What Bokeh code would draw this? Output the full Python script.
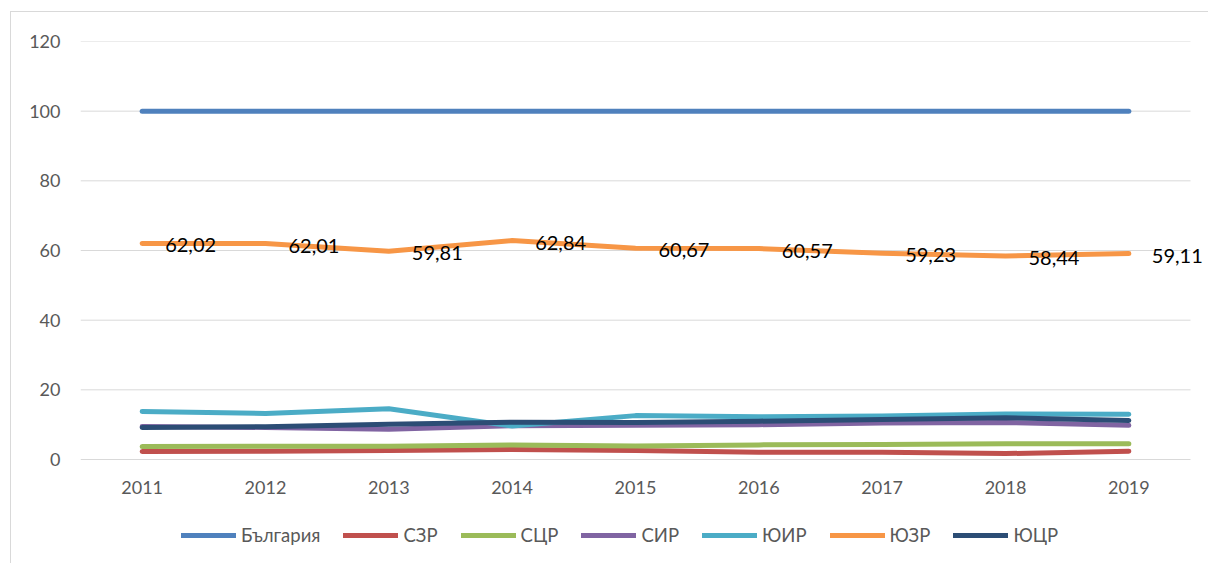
from bokeh.plotting import figure
from bokeh.models import ColumnDataSource, LabelSet, Legend, LegendItem, Range1d, FixedTicker
from bokeh.core.properties import value
from bokeh.embed import file_html
from bokeh.resources import INLINE

years = ["2011", "2012", "2013", "2014", "2015", "2016", "2017", "2018", "2019"]
bulgaria = [100, 100, 100, 100, 100, 100, 100, 100, 100]
szr = [2.3, 2.4, 2.6, 2.9, 2.6, 2.1, 2.1, 1.7, 2.4]
scr = [3.7, 3.8, 3.8, 4.2, 3.9, 4.2, 4.3, 4.5, 4.5]
sir = [9.5, 9.2, 8.7, 9.7, 9.8, 10.0, 10.5, 10.6, 9.8]
yuir = [13.8, 13.2, 14.6, 9.6, 12.6, 12.3, 12.5, 13.1, 13.0]
yuzr = [62.02, 62.01, 59.81, 62.84, 60.67, 60.57, 59.23, 58.44, 59.11]
yucr = [9.2, 9.4, 10.1, 10.7, 10.6, 11.0, 11.5, 12.0, 11.2]
yuzr_labels = ["62,02", "62,01", "59,81", "62,84", "60,67", "60,57", "59,23", "58,44", "59,11"]
y_ticks = [0, 20, 40, 60, 80, 100, 120]

series = [
    ("България", bulgaria, "#4f81bd"),
    ("СЗР", szr, "#c0504d"),
    ("СЦР", scr, "#9bbb59"),
    ("СИР", sir, "#8064a2"),
    ("ЮИР", yuir, "#4bacc6"),
    ("ЮЗР", yuzr, "#f79646"),
    ("ЮЦР", yucr, "#2c4d75"),
]

FONT = "Lato"
xs = list(range(len(years)))
n = len(years)

# frame spans to the canvas bottom/right so the legend and outer labels are not clipped
p = figure(width=1198, height=552, x_range=Range1d(-0.5, n - 0.5 + 0.154),
           y_range=Range1d(-30.14, 120), output_backend="svg", toolbar_location=None,
           min_border_left=69, min_border_right=0, min_border_top=29, min_border_bottom=0)
p.margin = (11, 0, 0, 10)
p.styles = {"border-left": "1px solid #d9d9d9", "border-top": "1px solid #d9d9d9"}
p.outline_line_color = None
p.background_fill_color = "white"
p.border_fill_color = "white"
p.xgrid.grid_line_color = None
p.ygrid.grid_line_color = None
p.xaxis.visible = False

# horizontal gridlines across the category bands
p.segment(x0=[-0.5] * len(y_ticks), x1=[n - 0.5] * len(y_ticks), y0=y_ticks, y1=y_ticks,
          line_color="#d9d9d9", line_width=1)

items = []
for name, vals, color in series:
    src = ColumnDataSource(dict(x=xs, y=vals))
    r = p.line("x", "y", source=src, line_color=color, line_width=5, line_cap="round", line_join="round")
    items.append(LegendItem(label=name, renderers=[r]))

lab_src = ColumnDataSource(dict(x=xs, y=yuzr, t=yuzr_labels))
p.add_layout(LabelSet(x="x", y="y", text="t", source=lab_src, x_offset=23, y_offset=-2,
                      text_align="left", text_baseline="middle", text_font=value(FONT),
                      text_font_size=value("20px"), text_color="#000000"))

# category (year) labels under the zero line
cat_src = ColumnDataSource(dict(x=xs, y=[0] * n, t=years))
p.add_layout(LabelSet(x="x", y="y", text="t", source=cat_src, y_offset=-28,
                      text_align="center", text_baseline="middle", text_font=value(FONT),
                      text_font_size=value("18px"), text_color="#595959"))

p.yaxis.ticker = FixedTicker(ticks=y_ticks)
p.yaxis.axis_line_color = None
p.yaxis.major_tick_line_color = None
p.yaxis.minor_tick_line_color = None
p.yaxis.major_tick_out = 0
p.yaxis.major_tick_in = 0
p.yaxis.major_label_standoff = 20
p.yaxis.major_label_text_font = FONT
p.yaxis.major_label_text_font_size = "18px"
p.yaxis.major_label_text_color = "#595959"

legend = Legend(items=items, orientation="horizontal", location=(101, 18),
                glyph_width=55, glyph_height=20, label_standoff=5, spacing=23,
                padding=0, margin=0, border_line_color=None, background_fill_alpha=0,
                label_text_font=FONT, label_text_font_size="18.5px", label_text_color="#595959")
p.add_layout(legend, "center")

open("out.html", "w").write(file_html(p, INLINE))
